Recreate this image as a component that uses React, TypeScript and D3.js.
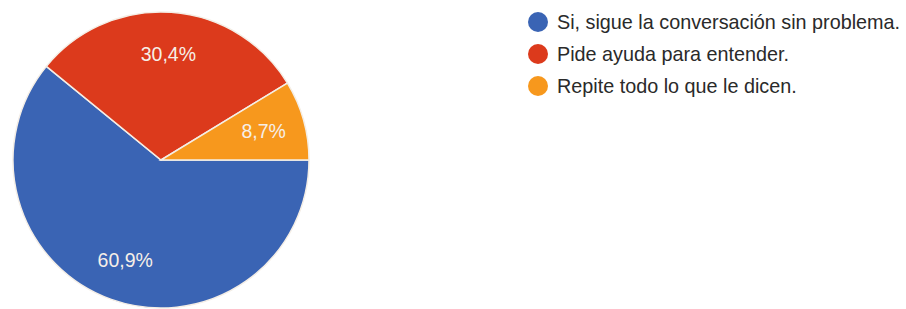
import React, { useEffect, useRef } from 'react';
import * as d3 from 'd3';

const categories = [
  'Si, sigue la conversación sin problema.',
  'Pide ayuda para entender.',
  'Repite todo lo que le dicen.',
];
const values = [60.9, 30.4, 8.7];
const labels = ['60,9%', '30,4%', '8,7%'];
const colors = ['#3a64b4', '#dc3a1c', '#f7981d'];

const W = 906;
const H = 309;

const App: React.FC = () => {
  const svgRef = useRef<SVGSVGElement>(null);

  useEffect(() => {
    if (!svgRef.current) return;
    const svg = d3.select(svgRef.current);
    svg.selectAll('*').remove();

    const cx = 161;
    const cy = 160;
    const radius = 148;

    const pie = d3.pie<number>()
      .sort(null)
      .startAngle(Math.PI / 2)
      .endAngle(Math.PI / 2 + 2 * Math.PI);
    const arcs = pie(values);

    const arc = d3.arc<d3.PieArcDatum<number>>()
      .innerRadius(0)
      .outerRadius(radius);
    const labelArc = d3.arc<d3.PieArcDatum<number>>()
      .innerRadius(radius * 0.72)
      .outerRadius(radius * 0.72);

    const g = svg.append('g').attr('transform', `translate(${cx},${cy})`);

    g.selectAll('path')
      .data(arcs)
      .enter().append('path')
      .attr('d', arc)
      .attr('fill', (_d, i) => colors[i])
      .attr('stroke', '#f4eee6')
      .attr('stroke-width', 1.5);

    g.selectAll('text')
      .data(arcs)
      .enter().append('text')
      .attr('transform', d => {
        const [x, y] = labelArc.centroid(d);
        return `translate(${x},${y})`;
      })
      .attr('text-anchor', 'middle')
      .attr('dominant-baseline', 'central')
      .attr('fill', '#f6efe8')
      .attr('font-family', 'Liberation Sans, Arial, sans-serif')
      .attr('font-size', 19.5)
      .text((_d, i) => labels[i]);

    // Legend
    const legendY = d3.scaleLinear().domain([0, 2]).range([22, 86]);
    const legend = svg.append('g');
    categories.forEach((c, i) => {
      const row = legend.append('g').attr('transform', `translate(538,${legendY(i)})`);
      row.append('circle')
        .attr('r', 10)
        .attr('fill', colors[i]);
      row.append('text')
        .attr('x', 19)
        .attr('dominant-baseline', 'central')
        .attr('fill', '#2a2a2a')
        .attr('font-family', 'Liberation Sans, Arial, sans-serif')
        .attr('font-size', 19.8)
        .text(c);
    });
  }, []);

  return (
    <svg
      ref={svgRef}
      width={W}
      height={H}
      style={{ position: 'absolute', left: 0, top: 0, background: '#ffffff', display: 'block' }}
    />
  );
};

export default App;
